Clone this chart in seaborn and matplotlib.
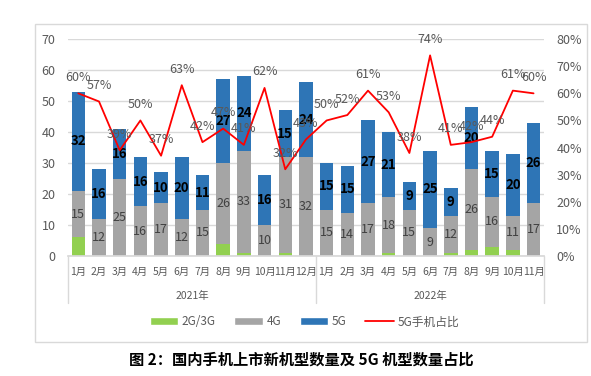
import numpy as np
import pandas as pd
import matplotlib
matplotlib.use("Agg")
import matplotlib.pyplot as plt
import matplotlib.transforms as mtransforms
from matplotlib.patches import Patch, Rectangle
from matplotlib.lines import Line2D
from matplotlib.ticker import PercentFormatter
import seaborn as sns

MONTHS_2021 = ["1月", "2月", "3月", "4月", "5月", "6月", "7月", "8月", "9月", "10月", "11月", "12月"]
MONTHS_2022 = ["1月", "2月", "3月", "4月", "5月", "6月", "7月", "8月", "9月", "10月", "11月"]
YEARS = ["2021年", "2022年"]

COUNT_2G3G = [6, 0, 0, 0, 0, 0, 0, 4, 1, 0, 1, 0,
              0, 0, 0, 1, 0, 0, 1, 2, 3, 2, 0]
COUNT_4G = [15, 12, 25, 16, 17, 12, 15, 26, 33, 10, 31, 32,
            15, 14, 17, 18, 15, 9, 12, 26, 16, 11, 17]
COUNT_5G = [32, 16, 16, 16, 10, 20, 11, 27, 24, 16, 15, 24,
            15, 15, 27, 21, 9, 25, 9, 20, 15, 20, 26]
SHARE_5G = [60, 57, 39, 50, 37, 63, 42, 47, 41, 62, 32, 43,
            50, 52, 61, 53, 38, 74, 41, 42, 44, 61, 60]

GREEN = "#92D050"
GRAY = "#A5A5A5"
BLUE = "#2E75B6"
RED = "#FF0000"
TEXT = "#595959"

sns.set_theme(style="white")
plt.rcParams["font.family"] = ["Noto Sans CJK SC", "DejaVu Sans"]


def build_frame():
    cats = [f"2021-{m}" for m in MONTHS_2021] + [f"2022-{m}" for m in MONTHS_2022]
    df = pd.DataFrame({
        "cat": cats,
        "month": MONTHS_2021 + MONTHS_2022,
        "g23": COUNT_2G3G,
        "g4": COUNT_4G,
        "g5": COUNT_5G,
        "share": np.array(SHARE_5G) / 100,
    })
    df["low"] = df["g23"]
    df["mid"] = df["g23"] + df["g4"]
    df["top"] = df["mid"] + df["g5"]
    return df


def main():
    df = build_frame()
    n = len(df)
    xs = np.arange(n)

    fig = plt.figure(figsize=(5.91, 3.76), dpi=100)
    fig.patches.append(Rectangle((0.059, 0.09), 0.934, 0.846, transform=fig.transFigure,
                                 fill=False, edgecolor="#D9D9D9", lw=1.0))
    ax = fig.add_axes([0.115, 0.319, 0.8053, 0.577])

    # stacked bars: draw cumulative heights back to front
    for col, color in [("top", BLUE), ("mid", GRAY), ("low", GREEN)]:
        sns.barplot(data=df, x="cat", y=col, color=color, width=0.65,
                    saturation=1, order=df["cat"], ax=ax, edgecolor="none")

    for i, row in df.iterrows():
        ax.text(i, row["low"] + row["g4"] / 2, str(row["g4"]), ha="center", va="center",
                fontsize=9, color="#404040")
        ax.text(i, row["mid"] + row["g5"] / 2, str(row["g5"]), ha="center", va="center",
                fontsize=9.5, color="black", fontweight="bold")

    ax.set_xlim(-0.5, n - 0.5)
    ax.set_ylim(0, 70)
    ax.set_yticks(range(0, 71, 10))
    ax.set_xticks(xs)
    ax.set_xticklabels(df["month"], fontsize=7.5, color=TEXT)
    ax.tick_params(axis="x", length=0, pad=8)
    ax.tick_params(axis="y", length=0, pad=9, labelsize=9, labelcolor=TEXT)
    ax.set_xlabel("")
    ax.set_ylabel("")
    ax.yaxis.grid(True, color="#D9D9D9", lw=1.0)
    ax.set_axisbelow(True)
    for side in ["top", "left", "right"]:
        ax.spines[side].set_visible(False)
    ax.spines["bottom"].set_color("#D9D9D9")

    # year level of the category axis
    trans = mtransforms.blended_transform_factory(ax.transData, ax.transAxes)
    for x in [-0.5, 11.5, n - 0.5]:
        ax.plot([x, x], [0, -0.217], transform=trans, color="#D9D9D9", lw=1.0, clip_on=False)
    ax.text(5.5, -0.185, YEARS[0], transform=trans, ha="center", va="center",
            fontsize=7.5, color=TEXT)
    ax.text(17, -0.185, YEARS[1], transform=trans, ha="center", va="center",
            fontsize=7.5, color=TEXT)

    ax2 = ax.twinx()
    sns.lineplot(x=xs, y=df["share"], ax=ax2, color=RED, lw=1.3)
    ax2.set_ylim(0, 0.8)
    ax2.set_yticks(np.arange(0, 0.81, 0.1))
    ax2.yaxis.set_major_formatter(PercentFormatter(1.0, decimals=0))
    ax2.tick_params(axis="y", length=0, pad=9, labelsize=9, labelcolor=TEXT)
    ax2.set_ylabel("")
    for side in ax2.spines:
        ax2.spines[side].set_visible(False)
    for i, v in enumerate(SHARE_5G):
        ax2.annotate(f"{v}%", (i, v / 100), xytext=(0, 11.5), textcoords="offset points",
                     ha="center", va="center", fontsize=9, color=TEXT)

    handles = [
        Patch(facecolor=GREEN, label="2G/3G"),
        Patch(facecolor=GRAY, label="4G"),
        Patch(facecolor=BLUE, label="5G"),
        Line2D([0], [0], color=RED, lw=1.3, label="5G手机占比"),
    ]
    fig.legend(handles=handles, loc="center", bbox_to_anchor=(0.515, 0.144), ncol=4,
               frameon=False, fontsize=8.5, handlelength=2.4, handleheight=0.7,
               columnspacing=1.6, handletextpad=0.3, labelcolor=TEXT)

    fig.text(0.51, 0.045, "图 2：国内手机上市新机型数量及 5G 机型数量占比", ha="center",
             va="center", fontsize=11, fontweight="bold", color="black")

    fig.savefig("out.png", dpi=100)
    plt.close(fig)


if __name__ == "__main__":
    main()
